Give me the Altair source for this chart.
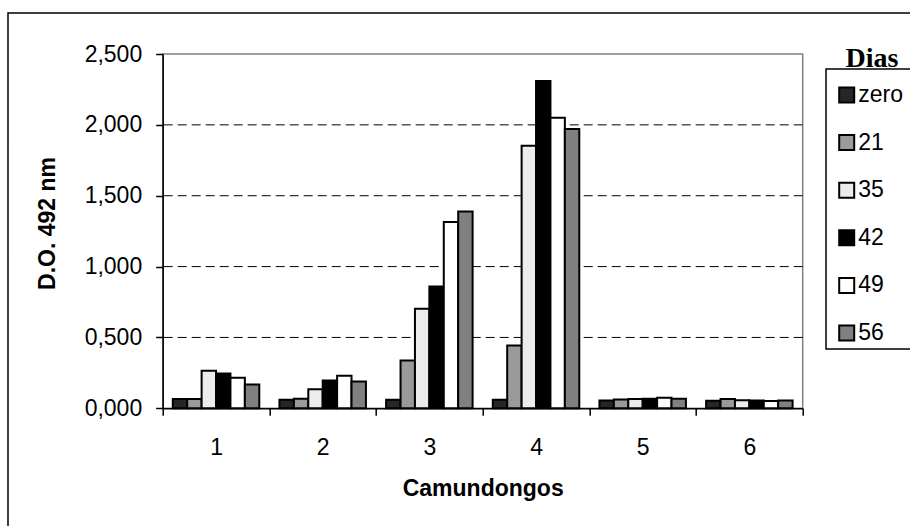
import altair as alt
import pandas as pd

mice = ["1", "2", "3", "4", "5", "6"]
days = ["zero", "21", "35", "42", "49", "56"]

v_zero = [0.065, 0.060, 0.060, 0.060, 0.055, 0.053]
v_21 = [0.065, 0.067, 0.337, 0.443, 0.062, 0.065]
v_35 = [0.265, 0.135, 0.702, 1.852, 0.066, 0.057]
v_42 = [0.246, 0.196, 0.860, 2.310, 0.068, 0.055]
v_49 = [0.215, 0.229, 1.314, 2.050, 0.075, 0.052]
v_56 = [0.168, 0.189, 1.389, 1.970, 0.068, 0.055]
series = [v_zero, v_21, v_35, v_42, v_49, v_56]

fills = ["#262626", "#9a9a9a", "#ececec", "#000000", "#ffffff", "#808080"]
y_ticks = [0.0, 0.5, 1.0, 1.5, 2.0, 2.5]
grid_vals = [0.5, 1.0, 1.5, 2.0]

rows = []
for d, vals in zip(days, series):
    for m, v in zip(mice, vals):
        rows.append({"mouse": m, "day": d, "od": v})
df = pd.DataFrame(rows)
grid_df = pd.DataFrame({"v": grid_vals})
one = pd.DataFrame({"a": [0]})

W, H = 640, 354.3
L, T = 162.7, 54
FONT = "Liberation Sans"

grid = alt.Chart(grid_df).mark_rule(
    color="black", strokeWidth=1, strokeDash=[9, 5]
).encode(y=alt.Y("v:Q"))

bars = alt.Chart(df).mark_bar(stroke="black", strokeWidth=2).encode(
    x=alt.X(
        "mouse:N",
        sort=mice,
        scale=alt.Scale(paddingInner=0, paddingOuter=0),
        axis=alt.Axis(
            title="Camundongos",
            labelAngle=0,
            tickBand="extent",
            tickSize=7,
            labelPadding=21,
            labelBaseline="top",
            titleX=320,
            titleY=80,
            titleBaseline="middle",
        ),
    ),
    xOffset=alt.XOffset(
        "day:N", sort=days, scale=alt.Scale(paddingOuter=0.7, paddingInner=0)
    ),
    y=alt.Y(
        "od:Q",
        scale=alt.Scale(domain=[0, 2.5], nice=False),
        axis=alt.Axis(
            values=y_ticks,
            labelExpr="replace(format(datum.value, '.3f'), '.', ',')",
            title="D.O. 492 nm",
            tickSize=7,
            labelPadding=14,
            titleX=-115.7,
            titleY=169,
            titleBaseline="middle",
        ),
    ),
    fill=alt.Fill(
        "day:N",
        sort=days,
        scale=alt.Scale(domain=days, range=fills),
        legend=alt.Legend(
            title=None,
            orient="none",
            legendX=672.5,
            legendY=29.5,
            symbolType="square",
            symbolSize=225,
            symbolStrokeColor="black",
            symbolStrokeWidth=2,
            labelFont=FONT,
            labelFontSize=23,
            labelColor="black",
            labelOffset=0,
            rowPadding=23.6,
            padding=0,
        ),
    ),
)

frame = alt.Chart(one).mark_rect(
    fillOpacity=0, stroke="black", strokeWidth=1.5
).encode(
    x=alt.value(8 - L), x2=alt.value(780), y=alt.value(13 - T), y2=alt.value(500)
)

legend_box = alt.Chart(one).mark_rect(
    fillOpacity=0, stroke="black", strokeWidth=1.5
).encode(
    x=alt.value(826 - L), x2=alt.value(780), y=alt.value(69 - T), y2=alt.value(349 - T)
)

legend_title = alt.Chart(one).mark_text(
    text="Dias",
    font="Liberation Serif",
    fontWeight="bold",
    fontSize=28,
    align="center",
    baseline="alphabetic",
    color="black",
).encode(x=alt.value(872 - L), y=alt.value(67 - T))

chart = (
    alt.layer(frame, grid, bars, legend_box, legend_title)
    .properties(
        width=W,
        height=H,
        autosize=alt.AutoSizeParams(type="none"),
        padding={"left": L, "top": T, "right": 910 - L - W, "bottom": 526 - T - H},
        background="white",
    )
    .configure_view(stroke="#808080", strokeWidth=1.5)
    .configure_axis(
        grid=False,
        domainColor="black",
        domainWidth=1.5,
        tickColor="black",
        tickWidth=1.5,
        labelFont=FONT,
        labelFontSize=23,
        labelColor="black",
        titleFont=FONT,
        titleFontSize=23,
        titleFontWeight="bold",
        titleColor="black",
    )
)

chart.save("out.html", embed_options={"renderer": "svg", "actions": False})
